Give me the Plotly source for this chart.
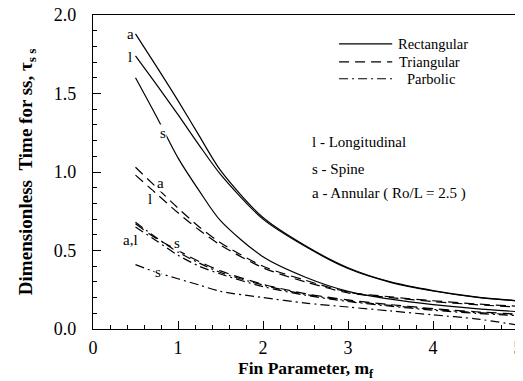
import plotly.graph_objects as go

mf = [0.5, 0.75, 1.0, 1.25, 1.5, 2.0, 2.5, 3.0, 3.5, 4.0, 4.5, 5.0]

rect_annular = [1.88, 1.67, 1.455, 1.23, 1.01, 0.71, 0.53, 0.39, 0.30, 0.245, 0.205, 0.18]
rect_longit = [1.74, 1.555, 1.365, 1.17, 0.985, 0.70, 0.525, 0.385, 0.297, 0.242, 0.203, 0.178]
rect_spine = [1.60, 1.35, 1.09, 0.88, 0.69, 0.46, 0.33, 0.24, 0.19, 0.155, 0.13, 0.11]

tri_annular = [1.03, 0.90, 0.77, 0.65, 0.55, 0.40, 0.31, 0.235, 0.205, 0.18, 0.16, 0.145]
tri_longit = [0.98, 0.86, 0.74, 0.63, 0.535, 0.39, 0.30, 0.23, 0.20, 0.175, 0.155, 0.14]
tri_spine = [0.67, 0.575, 0.50, 0.43, 0.37, 0.285, 0.225, 0.185, 0.155, 0.13, 0.11, 0.095]

par_annular = [0.68, 0.58, 0.49, 0.42, 0.36, 0.28, 0.22, 0.18, 0.15, 0.125, 0.105, 0.09]
par_longit = [0.65, 0.56, 0.47, 0.40, 0.35, 0.27, 0.215, 0.175, 0.145, 0.12, 0.10, 0.085]
par_spine = [0.41, 0.36, 0.32, 0.28, 0.24, 0.20, 0.165, 0.14, 0.115, 0.09, 0.065, 0.025]

x_ticks = [0, 1, 2, 3, 4, 5]
y_ticks = [0.0, 0.5, 1.0, 1.5, 2.0]

legend_names = ["Rectangular", "Triangular", "Parbolic"]

SERIF = "Liberation Serif"
DASH_TRI = "10px,6px"
DASH_PAR = "9px,4px,2px,4px"
dashes = ["solid", DASH_TRI, DASH_PAR]

fig = go.Figure()

def add(y, dash):
    fig.add_trace(go.Scatter(
        x=mf, y=y, mode="lines", showlegend=False,
        line=dict(color="black", width=1.2, dash=dash, shape="spline", smoothing=0.8),
        hoverinfo="skip"))

add(rect_annular, "solid")
add(rect_longit, "solid")
add(rect_spine, "solid")
add(tri_annular, DASH_TRI)
add(tri_longit, DASH_TRI)
add(tri_spine, DASH_TRI)
add(par_annular, DASH_PAR)
add(par_longit, DASH_PAR)
add(par_spine, DASH_PAR)

# manual legend (paper coordinates)
leg_rows = [0.908, 0.851, 0.797]
leg_text_x = [0.713, 0.715, 0.734]
for name, dash, ry, tx in zip(legend_names, dashes, leg_rows, leg_text_x):
    fig.add_shape(type="line", xref="paper", yref="paper",
                  x0=0.579, x1=0.704, y0=ry, y1=ry,
                  line=dict(color="black", width=1.2, dash=dash))
    fig.add_annotation(xref="paper", yref="paper", x=tx, y=ry, text=name,
                       showarrow=False, xanchor="left", yanchor="middle",
                       font=dict(family=SERIF, size=14.5, color="black"))

# curve labels
labels = [
    (0.44, 1.88, "a", False),
    (0.44, 1.73, "l", False),
    (0.82, 1.25, "s", True),
    (0.79, 0.93, "a", True),
    (0.67, 0.83, "l", True),
    (0.44, 0.565, "a,l", False),
    (0.99, 0.55, "s", True),
    (0.77, 0.36, "s", True),
]
for lx, ly, t, bg in labels:
    fig.add_annotation(x=lx, y=ly, text=t, showarrow=False,
                       font=dict(family=SERIF, size=15, color="black"),
                       bgcolor="white" if bg else None, borderpad=0)

notes = [
    (1.19, "l - Longitudinal"),
    (1.02, "s - Spine"),
    (0.86, "a - Annular ( Ro/L = 2.5 )"),
]
for ny, t in notes:
    fig.add_annotation(x=2.55, y=ny, text=t, showarrow=False, xanchor="left",
                       font=dict(family=SERIF, size=15, color="black"))

# axis titles
fig.add_annotation(xref="paper", yref="paper", x=-0.155, y=0.5, textangle=-90,
                   text="Dimensionless&nbsp;&nbsp;Time for ss, τ<sub>s s</sub>",
                   showarrow=False, xanchor="center", yanchor="middle",
                   font=dict(family=SERIF, size=19, color="black", weight="bold"))
fig.add_annotation(xref="paper", yref="paper", x=0.5, y=-0.128,
                   text="Fin Parameter, m<sub>f</sub>",
                   showarrow=False, xanchor="center", yanchor="middle",
                   font=dict(family=SERIF, size=17.5, color="black", weight="bold"))

# the page body adds an 8px offset, so the figure is sized to fill the rest of the window
fig.update_layout(
    width=515, height=373,
    margin=dict(l=85, r=5, t=7, b=52),
    paper_bgcolor="white", plot_bgcolor="white",
    font=dict(family=SERIF, color="black"),
    showlegend=False,
)

fig.update_xaxes(
    range=[0, 5], tickvals=x_ticks, ticktext=[str(v) for v in x_ticks],
    showline=True, linecolor="black", linewidth=1.2, mirror=True,
    ticks="inside", ticklen=8, tickwidth=1, tickcolor="black",
    minor=dict(ticks="inside", dtick=0.2, ticklen=4, tickcolor="black", tickwidth=1),
    showgrid=False, zeroline=False, automargin=False, ticklabelstandoff=2,
    ticklabeloverflow="allow",
    tickfont=dict(family=SERIF, size=18, color="black"),
)
fig.update_yaxes(
    range=[0, 2.0], tickvals=y_ticks, ticktext=[f"{v:.1f}" for v in y_ticks],
    showline=True, linecolor="black", linewidth=1.2, mirror=True,
    ticks="inside", ticklen=8, tickwidth=1, tickcolor="black",
    minor=dict(ticks="inside", dtick=0.1, ticklen=4, tickcolor="black", tickwidth=1),
    showgrid=False, zeroline=False, automargin=False, ticklabelstandoff=12,
    ticklabeloverflow="allow",
    tickfont=dict(family=SERIF, size=18, color="black"),
)

fig.write_html("out.html")
